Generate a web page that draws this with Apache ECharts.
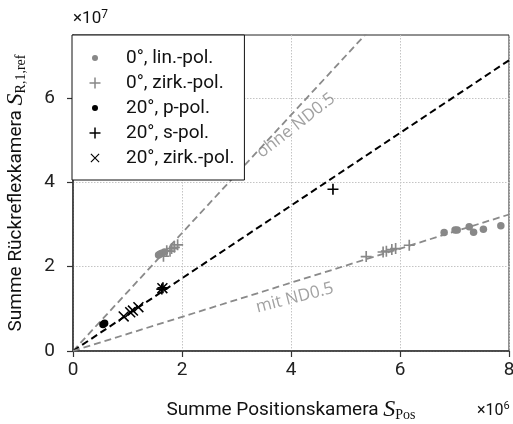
<!DOCTYPE html>
<html><head><meta charset="utf-8">
<script src="https://cdn.jsdelivr.net/npm/echarts@6/dist/echarts.min.js"></script>
<style>html,body{margin:0;padding:0;background:#fff}#c{width:513px;height:424px}</style>
</head><body><div id="c"></div>
<script>
// units: x in 1e6, y in 1e7
const xTicks = [0, 2, 4, 6, 8];
const yTicks = [0, 2, 4, 6];
const seriesNames = ['0°, lin.-pol.', '0°, zirk.-pol.', '20°, p-pol.', '20°, s-pol.', '20°, zirk.-pol.'];
const lin0 = [[1.57,2.28],[1.60,2.30],[1.63,2.32],[1.68,2.35],
              [6.81,2.81],[7.01,2.87],[7.05,2.87],[7.27,2.95],[7.35,2.82],[7.53,2.89],[7.85,2.97]];
const zirk0 = [[1.66,2.25],[1.72,2.38],[1.78,2.37],[1.81,2.43],[1.86,2.46],[1.92,2.52],
               [5.38,2.24],[5.69,2.35],[5.75,2.37],[5.85,2.41],[5.92,2.43],[6.17,2.51]];
const pPol20 = [[0.55,0.63],[0.58,0.66]];
const sPol20 = [[1.63,1.47],[1.65,1.50],[4.77,3.84]];
const zirk20 = [[0.93,0.82],[1.05,0.92],[1.10,0.96],[1.20,1.04],[1.64,1.49]];
const fitNames = ['ohne ND0.5', 'alle 20°', 'mit ND0.5'];
const fitSlopes = [1.40, 0.8625, 0.405];
const fitColors = ['#8a8a8a', '#000000', '#8a8a8a'];
const fitLabelPos = [[4.09, 5.35], null, [4.07, 1.26]];
const fitLabelRotate = [38, 0, 14.5];

const gray = '#888888';
const plusPath = 'path://M4.25,0H5.75V4.25H10V5.75H5.75V10H4.25V5.75H0V4.25H4.25Z';
const xPath = 'path://M0,1L1,0L10,9L9,10ZM1,10L0,9L9,0L10,1Z';
const legendCircle = 'path://M0,0L0,0M35,14L35,14M12,7A3,3,0,1,1,6,7A3,3,0,1,1,12,7Z';
const legendPlus = 'path://M0,0L0,0M35,14L35,14M8.25,1.5H9.75V6.25H14.5V7.75H9.75V12.5H8.25V7.75H3.5V6.25H8.25Z';
const legendX = 'path://M0,0L0,0M35,14L35,14M4.5,3.3L5.3,2.5L13.5,10.7L12.7,11.5ZM5.3,11.5L4.5,10.7L12.7,2.5L13.5,3.3Z';

const font = 'Roboto';
const chart = echarts.init(document.getElementById('c'), null, {renderer: 'canvas'});

const mkScatter = (name, data, symbol, size, color) => ({
  name, type: 'scatter', data, symbol, symbolSize: size, z: 5,
  itemStyle: {color, opacity: 1}
});

const series = [];
fitSlopes.forEach((k, i) => {
  series.push({
    name: fitNames[i], type: 'line', data: [[0, 0], [xTicks[xTicks.length-1], xTicks[xTicks.length-1] * k]],
    symbol: 'none', silent: true, z: 3, clip: true,
    lineStyle: {color: fitColors[i], width: i === 1 ? 2 : 1.8, type: [7, 4]}
  });
  if (fitLabelPos[i]) {
    series.push({
      name: fitNames[i] + ' label', type: 'scatter', data: [fitLabelPos[i]], symbolSize: 1, silent: true, z: 4,
      itemStyle: {color: 'rgba(0,0,0,0)'},
      label: {show: true, position: 'inside', formatter: fitNames[i], rotate: fitLabelRotate[i],
        fontFamily: 'Open Sans', fontSize: 17, color: '#8a8a8a'}
    });
  }
});
series.push(mkScatter(seriesNames[0], lin0, 'circle', 7.5, gray));
series.push(mkScatter(seriesNames[1], zirk0, plusPath, 11, gray));
series.push(mkScatter(seriesNames[2], pPol20, 'circle', 7.5, '#000'));
series.push(mkScatter(seriesNames[3], sPol20, plusPath, 11, '#000'));
series.push(mkScatter(seriesNames[4], zirk20, xPath, 11, '#000'));

const legendIcons = [legendCircle, legendPlus, legendCircle, legendPlus, legendX];

chart.setOption({
  animation: false,
  backgroundColor: '#fff',
  grid: {left: 73, right: 4, top: 35, bottom: 73, show: true, borderColor: '#222', borderWidth: 1,
    outerBoundsMode: 'none', containLabel: false},
  legend: {
    data: seriesNames.map((n, i) => ({name: n, icon: legendIcons[i]})),
    orient: 'vertical', left: 72, top: 35, padding: [13, 10, 12, 14],
    itemWidth: 35, itemHeight: 14, itemGap: 5,
    backgroundColor: '#fff', borderColor: '#111', borderWidth: 1, borderRadius: 0,
    selectedMode: false,
    textStyle: {fontFamily: font, fontSize: 19, color: '#111', lineHeight: 20}
  },
  xAxis: {
    type: 'value', min: xTicks[0], max: xTicks[xTicks.length-1], interval: 2,
    name: '{t|Summe Positionskamera }{s|S}{sub|Pos}', nameLocation: 'middle', nameGap: 46,
    nameTextStyle: {rich: {
      t: {fontFamily: font, fontSize: 19, color: '#111', lineHeight: 26},
      s: {fontFamily: 'Liberation Serif', fontStyle: 'italic', fontSize: 24, color: '#111', lineHeight: 26},
      sub: {fontFamily: 'Liberation Serif', fontSize: 14, color: '#111', lineHeight: 26, padding: [10, 0, 0, 0]}
    }},
    axisLine: {show: true, lineStyle: {color: '#333', width: 1.5}},
    axisTick: {show: true, length: 6, lineStyle: {color: '#333', width: 1.2}},
    axisLabel: {fontFamily: font, fontSize: 19, color: '#222', margin: 10, customValues: xTicks},
    splitLine: {show: true, lineStyle: {color: '#c4c4c4', width: 1, type: [1.5, 1.5]}}
  },
  yAxis: {
    type: 'value', min: yTicks[0], max: 7.5, interval: 2,
    name: '{t|Summe Rückreflexkamera }{s|S}{sub|R,1,ref}', nameLocation: 'middle', nameGap: 44, nameRotate: 90,
    nameTextStyle: {rich: {
      t: {fontFamily: font, fontSize: 19, color: '#111', lineHeight: 26},
      s: {fontFamily: 'Liberation Serif', fontStyle: 'italic', fontSize: 24, color: '#111', lineHeight: 26},
      sub: {fontFamily: 'Liberation Serif', fontSize: 14, color: '#111', lineHeight: 26, padding: [10, 0, 0, 0]}
    }},
    axisLine: {show: true, lineStyle: {color: '#333', width: 1.5}},
    axisTick: {show: true, length: 6, lineStyle: {color: '#333', width: 1.2}, customValues: yTicks},
    axisLabel: {fontFamily: font, fontSize: 19, color: '#222', margin: 18, customValues: yTicks},
    splitLine: {show: true, lineStyle: {color: '#c4c4c4', width: 1, type: [1.5, 1.5]}}
  },
  graphic: [
    {type: 'text', left: 73, top: 9, style: {text: '×10{sup|7}', fontFamily: font, fontSize: 17, fill: '#111',
      rich: {sup: {fontFamily: font, fontSize: 12, verticalAlign: 'top', padding: [0, 0, 8, 0]}}}},
    {type: 'text', left: 477, top: 401, style: {text: '×10{sup|6}', fontFamily: font, fontSize: 16, fill: '#111',
      rich: {sup: {fontFamily: font, fontSize: 11, verticalAlign: 'top', padding: [0, 0, 8, 0]}}}}
  ],
  series
});
</script></body></html>
